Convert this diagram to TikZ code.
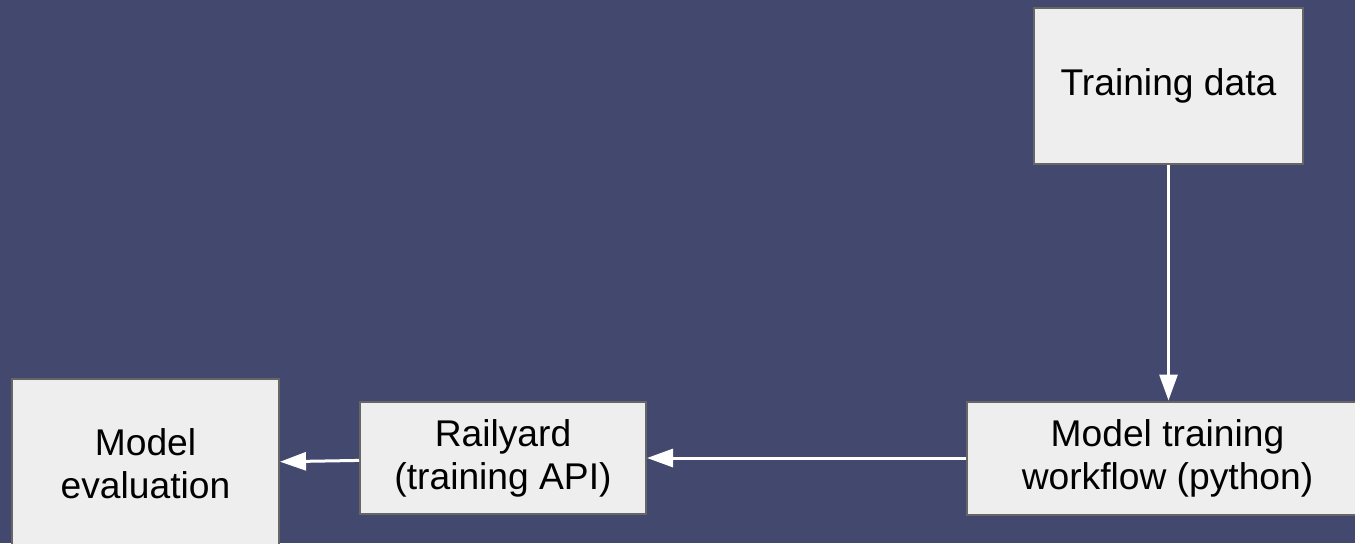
\documentclass[tikz,border=0pt]{standalone}
\usepackage{fontspec}
\setmainfont{Liberation Sans}
\usetikzlibrary{arrows.meta,positioning}
\definecolor{slide_bg}{RGB}{67,72,111}
\definecolor{box_fill}{RGB}{238,238,238}
\definecolor{box_line}{RGB}{102,102,102}

\begin{document}
\begin{tikzpicture}[
      mybox/.style={
         rectangle,
         draw=box_line,
         fill=box_fill,
         line width=1pt,
         inner sep=0pt,
         align=center,
         font=\fontsize{18.6}{21.5}\selectfont},
      arrow_white/.style={
        -{Triangle[length=13pt,width=9pt]},
        line width=1.5pt,
        draw=white,
        fill=white},
        node distance=40pt and 40pt,
        xs/.style = {xshift=#1 pt},
        ys/.style = {yshift=#1 pt},
      ]
      % background
      \fill[slide_bg] (0,0) rectangle (677.5pt,-271.5pt);
      \useasboundingbox (0,0) rectangle (677.5pt,-271.5pt);

      %evaluation
      \node[mybox,minimum width=133.5pt,minimum height=85pt] (eval) at (72.75pt,-232pt) {Model\\evaluation};

      \node[mybox,minimum width=143pt,minimum height=56pt,right=39.5pt of eval,ys=3] (rail) {Railyard\\(training API)};
      \node[mybox,minimum width=200.5pt,minimum height=56.5pt,right=159.5pt of rail] (train) {Model training\\workflow (python)};
      % data
      \node[mybox,minimum width=134.5pt,minimum height=78pt,above=118pt of train,xs=0.5] (data) {Training data};

    \draw [arrow_white] (data.south) -- (data.south |- train.north);
    \foreach \i/\j in {% start node/end node
      train/rail,
      rail/eval}
      \draw [arrow_white] (\i) -- (\j);
    \end{tikzpicture}
\end{document}
